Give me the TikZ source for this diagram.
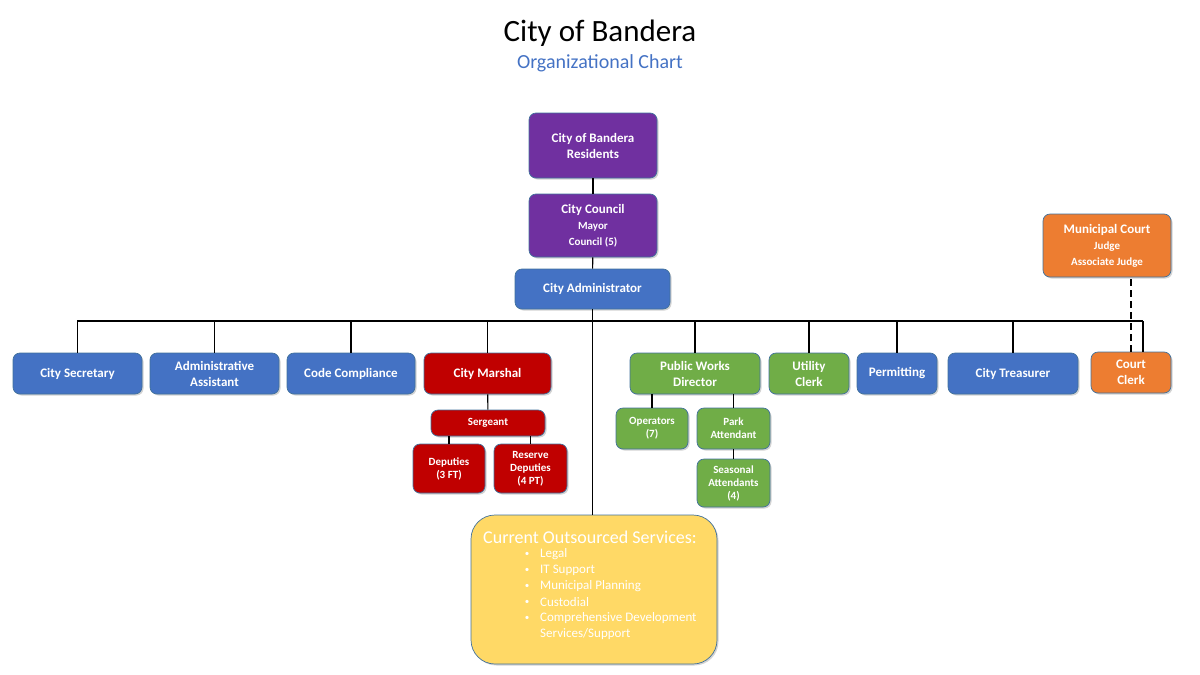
\documentclass[tikz,border=0pt]{standalone}
\usepackage{fontspec}
\setmainfont{Carlito}
\usetikzlibrary{shadows}
\definecolor{cpurple}{HTML}{7030A0}
\definecolor{cblue}{HTML}{4472C4}
\definecolor{cred}{HTML}{C00000}
\definecolor{cgreen}{HTML}{70AD47}
\definecolor{corange}{HTML}{ED7D31}
\definecolor{cyellow}{HTML}{FFD966}
\definecolor{cedge}{HTML}{41719C}
\newcommand{\fs}[2]{\fontsize{#1}{#2}\selectfont}
\tikzset{
  box/.style={rounded corners=7, draw=cedge, line width=0.7pt, text=white,
    font=\bfseries\fs{13}{16}, align=center, inner sep=0pt,
    drop shadow={opacity=0.35, shadow xshift=1.5pt, shadow yshift=-1.5pt}},
  small/.style={box, font=\bfseries\fs{11}{13}},
  conn/.style={draw=black, line width=1.1pt},
  bullet/.style={text=white, font=\fs{13}{15}, inner sep=0pt},
}
\begin{document}
\begin{tikzpicture}[x=1pt,y=-1pt]
\useasboundingbox (0,0) rectangle (1200,675);
% titles
\node[font=\fs{31}{34}] (title) at (600,33) {City of Bandera};
\node[font=\fs{20}{22}, text=cblue] (subtitle) at (600,63) {Organizational Chart};
% top chain
\node[box, fill=cpurple, minimum width=128, minimum height=65] (res) at (593,145.5) {City of Bandera\\Residents};
\node[box, fill=cpurple, minimum width=128, minimum height=63] (council) at (593,225.5) {City Council\\{\fs{11}{14}Mayor}\\{\fs{11}{14}Council (5)}};
\node[box, fill=cblue, minimum width=155, minimum height=40] (admin) at (592.5,289) {City Administrator};
% second row
\node[box, fill=cblue, minimum width=129, minimum height=41] (sec) at (77.5,373.5) {City Secretary};
\node[box, fill=cblue, minimum width=129, minimum height=41] (asst) at (214.5,373.5) {Administrative\\Assistant};
\node[box, fill=cblue, minimum width=128, minimum height=41] (code) at (351,373.5) {Code Compliance};
\node[box, fill=cred, minimum width=127, minimum height=41] (marsh) at (487.5,373.5) {City Marshal};
\node[box, fill=cgreen, minimum width=130, minimum height=41] (pwd) at (695,373.5) {Public Works\\Director};
\node[box, fill=cgreen, minimum width=80, minimum height=41] (util) at (809,373.5) {Utility\\Clerk};
\node[box, fill=cblue, minimum width=80, minimum height=41] (perm) at (897,373.5) {Permitting};
\node[box, fill=cblue, minimum width=130, minimum height=41] (treas) at (1013,373.5) {City Treasurer};
\node[box, fill=corange, minimum width=80, minimum height=41] (cc) at (1131,372.5) {Court\\Clerk};
\node[box, fill=corange, minimum width=128, minimum height=63] (mc) at (1107,245.5) {Municipal Court\\{\fs{11}{14}Judge}\\{\fs{11}{14}Associate Judge}};
% marshal branch
\node[small, fill=cred, minimum width=114, minimum height=26] (sgt) at (488,423) {Sergeant};
\node[small, fill=cred, minimum width=72, minimum height=49] (dep) at (449,468.5) {Deputies\\(3 FT)};
\node[small, fill=cred, minimum width=73, minimum height=49] (rdep) at (530.5,468.5) {Reserve\\Deputies\\(4 PT)};
% public works branch
\node[small, fill=cgreen, minimum width=72, minimum height=41] (ops) at (652,428.5) {Operators\\(7)};
\node[small, fill=cgreen, minimum width=73, minimum height=41] (park) at (733.5,428.5) {Park\\Attendant};
\node[small, fill=cgreen, minimum width=73, minimum height=48] (seas) at (733.5,483) {Seasonal\\Attendants\\(4)};
% outsourced
\node[box, rounded corners=24, fill=cyellow, minimum width=246, minimum height=149] (out) at (594,589.5) {};
\node[text=white, font=\fs{18}{20}, inner sep=0pt] (outt) at (590,537) {Current Outsourced Services:};
\foreach \i/\t/\yy in {1/Legal/554, 2/IT Support/570, 3/Municipal Planning/586, 4/Custodial/602, 5/Comprehensive Development/618}{
  \node[bullet, font=\fs{9}{10}] (b\i) at (527,\yy) {\textbullet};
  \node[bullet, anchor=west] (l\i) at (540,\yy) {\t};
}
\node[bullet, anchor=west] (l6) at (540,634) {Services/Support};
% connectors
\draw[conn] (res) -- (council);
\draw[conn] (council) -- (admin);
\draw[conn] (admin.south) -- (admin.south |- out.north);
\coordinate (barL) at (77,321);
\coordinate (barR) at (1143,321);
\draw[conn] (barL) -- (barR);
\foreach \n in {sec,asst,code,marsh,pwd,util,perm,treas}{
  \draw[conn] (\n.north) -- (\n.north |- barL);
}
\draw[conn] (barR) -- (barR |- cc.north);
\draw[conn, dashed, dash pattern=on 7pt off 4pt] (cc.north) -- (cc.north |- mc.south);
\draw[conn] (marsh) -- (sgt);
\draw[conn] (dep.north) -- (dep.north |- sgt.south);
\draw[conn] (rdep.north) -- (rdep.north |- sgt.south);
\draw[conn] (ops.north) -- (ops.north |- pwd.south);
\draw[conn] (park.north) -- (park.north |- pwd.south);
\draw[conn] (park) -- (seas);
\end{tikzpicture}
\end{document}
